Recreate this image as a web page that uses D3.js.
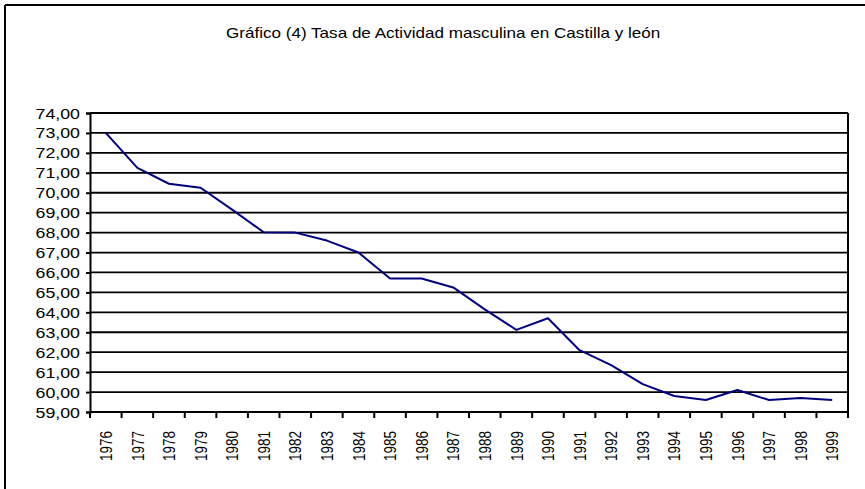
<!DOCTYPE html>
<html>
<head>
<meta charset="utf-8">
<script src="https://cdn.jsdelivr.net/npm/d3@7"></script>
<style>
  body { margin: 0; background: #fff; }
  svg { display: block; font-family: "Liberation Sans", Arial, sans-serif; }
</style>
</head>
<body>
<svg id="chart" width="865" height="489"></svg>
<script>
// data
const years = [1976, 1977, 1978, 1979, 1980, 1981, 1982, 1983, 1984, 1985, 1986, 1987,
               1988, 1989, 1990, 1991, 1992, 1993, 1994, 1995, 1996, 1997, 1998, 1999];
const rates = [73.00, 71.25, 70.45, 70.25, 69.15, 68.02, 68.00, 67.60, 67.00, 65.70, 65.70, 65.25,
               64.15, 63.12, 63.70, 62.10, 61.35, 60.40, 59.80, 59.60, 60.10, 59.60, 59.70, 59.60];
const yTicks = [59, 60, 61, 62, 63, 64, 65, 66, 67, 68, 69, 70, 71, 72, 73, 74];
const title = "Gráfico (4) Tasa de Actividad masculina en Castilla y león";

const svg = d3.select("svg#chart");
const plot = { left: 90, right: 848, top: 113, bottom: 412 };
const stretch = 1.27; // text in the original is widened horizontally

// frame (only left and top edges visible)
svg.append("line")
    .attr("x1", 5).attr("y1", 5).attr("x2", 5).attr("y2", 489)
    .attr("stroke", "#000").attr("stroke-width", 2);
svg.append("line")
    .attr("x1", 5).attr("y1", 5).attr("x2", 865).attr("y2", 5)
    .attr("stroke", "#000").attr("stroke-width", 2);

// title
svg.append("text")
    .text(title)
    .attr("transform", `translate(226, 38) scale(1.22, 1)`)
    .style("font-size", "14px")
    .attr("fill", "#000");

// scales
const xScale = d3.scaleBand().domain(years).range([plot.left, plot.right]);
const yScale = d3.scaleLinear().domain([59, 74]).range([plot.bottom, plot.top]);
const fmt = (d) => d3.format(".2f")(d).replace(".", ",");

// horizontal gridlines
svg.append("g")
    .attr("class", "gridlines")
    .selectAll("line")
    .data(yTicks)
    .join("line")
    .attr("x1", plot.left)
    .attr("x2", plot.right)
    .attr("y1", (d) => yScale(d))
    .attr("y2", (d) => yScale(d))
    .attr("stroke", "#000")
    .attr("stroke-width", 1.8);

// right edge of plot
svg.append("line")
    .attr("x1", plot.right).attr("x2", plot.right)
    .attr("y1", plot.top).attr("y2", plot.bottom + 5)
    .attr("stroke", "#000").attr("stroke-width", 2);

// y axis
const leftAxis = d3.axisLeft(yScale).tickValues(yTicks).tickSize(4).tickFormat(fmt);
const yAxis = svg.append("g")
    .attr("class", "y axis")
    .attr("transform", `translate(${plot.left},0)`)
    .call(leftAxis);
yAxis.select(".domain").attr("stroke", "#000").attr("stroke-width", 2);
yAxis.selectAll(".tick line").attr("stroke", "#000").attr("stroke-width", 2);
yAxis.selectAll(".tick text")
    .attr("x", null)
    .attr("dy", null)
    .attr("transform", `translate(-10, 5) scale(${stretch}, 1)`)
    .attr("fill", "#000")
    .style("font-size", "14px")
    .style("font-family", "Liberation Sans, Arial, sans-serif");

// x axis line
svg.append("line")
    .attr("x1", plot.left).attr("x2", plot.right)
    .attr("y1", plot.bottom).attr("y2", plot.bottom)
    .attr("stroke", "#000").attr("stroke-width", 2);

// x ticks at category boundaries
const bounds = years.map((d) => xScale(d)).concat([plot.right]);
svg.append("g")
    .selectAll("line")
    .data(bounds)
    .join("line")
    .attr("x1", (d) => d).attr("x2", (d) => d)
    .attr("y1", plot.bottom).attr("y2", plot.bottom + 6)
    .attr("stroke", "#000").attr("stroke-width", 2);

// x labels, rotated
svg.append("g")
    .selectAll("text")
    .data(years)
    .join("text")
    .text((d) => d)
    .attr("transform", (d) =>
        `translate(${xScale(d) + xScale.bandwidth() / 2}, 431) scale(${stretch}, 1) rotate(-90)`)
    .attr("text-anchor", "end")
    .attr("dy", "0.36em")
    .style("font-size", "13.5px")
    .attr("fill", "#000");

// line
const line = d3.line()
    .x((d, i) => xScale(years[i]) + xScale.bandwidth() / 2)
    .y((d) => yScale(d));
svg.append("path")
    .datum(rates)
    .attr("d", line)
    .attr("fill", "none")
    .attr("stroke", "#000080")
    .attr("stroke-width", 2)
    .attr("stroke-linejoin", "round");
</script>
</body>
</html>
